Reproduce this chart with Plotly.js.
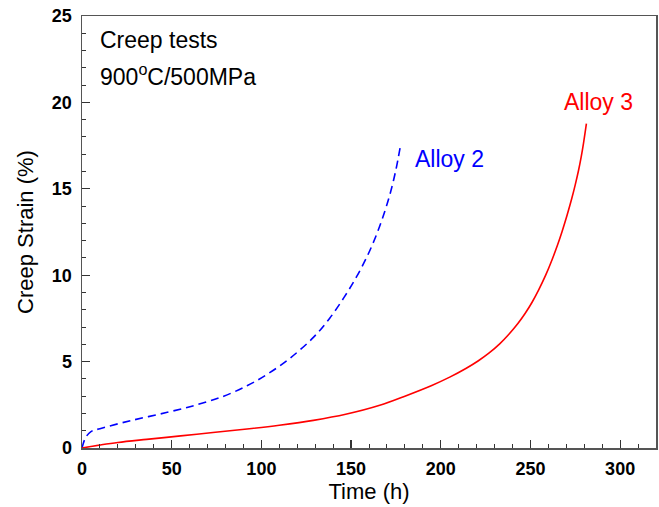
<!DOCTYPE html>
<html>
<head>
<meta charset="utf-8">
<script src="https://cdn.plot.ly/plotly-3.0.1.min.js"></script>
<style>html,body{margin:0;padding:0;background:#fff}#chart{width:659px;height:507px}</style>
</head>
<body>
<div id="chart"></div>
<script>
const alloy2Time = [0, 2, 5, 10, 27, 47, 64, 79, 92, 103, 116, 129, 138, 146, 153, 159, 164, 168.5, 172, 175, 177.3];
const alloy2Strain = [0, 0.6, 0.95, 1.12, 1.58, 2.05, 2.5, 3.0, 3.6, 4.25, 5.2, 6.4, 7.5, 8.7, 9.9, 11.1, 12.3, 13.6, 14.8, 16.1, 17.36];
const alloy3Time = [0, 10, 20, 36, 55, 73, 92, 110, 129, 147, 166, 180, 195, 205, 214, 221, 227, 233, 238, 243, 247, 251, 254.6, 258.5, 262, 265, 267.6, 270.5, 273, 275, 276.8, 278.3, 279.6, 281.2];
const alloy3Strain = [0, 0.17, 0.32, 0.5, 0.7, 0.9, 1.1, 1.32, 1.6, 1.95, 2.47, 3.0, 3.62, 4.1, 4.6, 5.05, 5.5, 6.04, 6.58, 7.2, 7.78, 8.45, 9.15, 10.0, 10.88, 11.72, 12.52, 13.5, 14.42, 15.24, 16.06, 16.85, 17.65, 18.77];

const fam = 'Liberation Sans, Arial, sans-serif';
const tickFont = {family: fam, size: 18, color: '#000', weight: 'bold'};
const titleFont = {family: fam, size: 22, color: '#000'};

const traces = [
  {x: alloy2Time, y: alloy2Strain, mode: 'lines', line: {color: '#0000ff', dash: '8px,5px', width: 1.6, shape: 'spline', smoothing: 1}, name: 'Alloy 2'},
  {x: alloy3Time, y: alloy3Strain, mode: 'lines', line: {color: '#ff0000', width: 1.6, shape: 'spline', smoothing: 1}, name: 'Alloy 3'}
];

const axisCommon = {
  showgrid: false, zeroline: false, showline: true, linecolor: '#555', linewidth: 1.5, mirror: true,
  ticks: 'inside', ticklen: 8, tickwidth: 1.2, tickcolor: '#333', tickfont: tickFont
};

const layout = {
  width: 659, height: 507,
  margin: {l: 82, r: 3, t: 16, b: 59},
  paper_bgcolor: '#fff', plot_bgcolor: '#fff',
  showlegend: false,
  font: {family: fam},
  xaxis: Object.assign({}, axisCommon, {
    range: [0, 320], dtick: 50, tick0: 0, ticklabelstandoff: 4,
    minor: {dtick: 10, ticks: 'inside', ticklen: 4, tickcolor: '#333', tickwidth: 1},
    title: {text: 'Time (h)', font: titleFont, standoff: 4}
  }),
  yaxis: Object.assign({}, axisCommon, {
    range: [0, 25], dtick: 5, tick0: 0, ticklabelstandoff: 5,
    minor: {dtick: 1, ticks: 'inside', ticklen: 4, tickcolor: '#333', tickwidth: 1},
    title: {text: 'Creep Strain (%)', font: titleFont, standoff: 12}
  }),
  annotations: [
    {x: 9, y: 23.6, xref: 'x', yref: 'y', xanchor: 'left', yanchor: 'middle', text: 'Creep tests', showarrow: false, font: {family: fam, size: 23, color: '#000'}},
    {x: 9, y: 21.6, xref: 'x', yref: 'y', xanchor: 'left', yanchor: 'middle', text: '900<sup>o</sup>C/500MPa', showarrow: false, font: {family: fam, size: 23, color: '#000'}},
    {x: 184.5, y: 16.7, xref: 'x', yref: 'y', xanchor: 'left', yanchor: 'middle', text: 'Alloy 2', showarrow: false, font: {family: fam, size: 23, color: '#0000ff'}},
    {x: 267.5, y: 20.0, xref: 'x', yref: 'y', xanchor: 'left', yanchor: 'middle', text: 'Alloy 3', showarrow: false, font: {family: fam, size: 23, color: '#ff0000'}}
  ]
};

Plotly.newPlot('chart', traces, layout, {displayModeBar: false, staticPlot: true});
</script>
</body>
</html>
